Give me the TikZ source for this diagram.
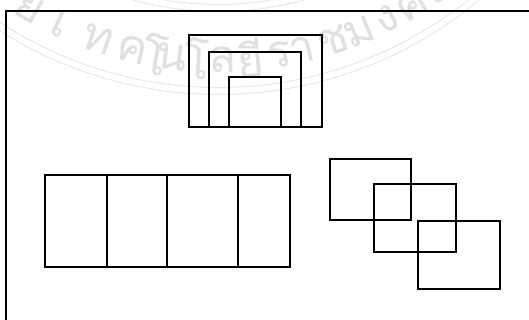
\documentclass[tikz,border=0pt]{standalone}
\usepackage{fontspec}
\usetikzlibrary{calc}
\newfontfamily\thaifont[Script=Thai]{Loma}
\begin{document}
\begin{tikzpicture}[x=1pt,y=1pt,
  shapeline/.style={line width=2.4pt, line join=miter},
  frameline/.style={line width=1.5pt},
  wm/.style={text=black!12, font=\thaifont\fontsize{46}{46}\selectfont, inner sep=0pt},
  ring/.style={draw=black!9, line width=1pt}]
\useasboundingbox (0,0) rectangle (529,320);
% faint watermark seal
\begin{scope}
\clip (0,0) rectangle (529,320);
\coordinate (wc) at (218.5,632.5);
\foreach \g/\x [count=\i] in {ย/30,เ/60,ท/98,ค/132,โ/155,น/172,โ/197,ล/222,ยี/250,ร/280,า/302,ช/333,ม/360,ง/387,ค/412,ล/437} {
  \pgfmathsetmacro\ang{asin((\x-218.5)/372)}
  \node[wm, rotate=\ang] (w\i) at ($(wc)+({372*sin(\ang)},{-372*cos(\ang)})$) {\g};
}
\foreach \r in {317,324,400,407}
  \draw[ring] (wc) ++(-140:\r) arc[start angle=-140, end angle=-40, radius=\r];
\end{scope}
% frame
\draw[frameline] (6,0) -- (6,309) -- (529,309);
% nested rectangles
\draw[shapeline] (189,193) rectangle (322,285);
\draw[shapeline] (209,193) rectangle (301,268);
\draw[shapeline] (229,193) rectangle (281,243);
% row of four panels
\draw[shapeline] (45,53) rectangle (290,145);
\draw[shapeline] (107,53) -- (107,145);
\draw[shapeline] (167,53) -- (167,145);
\draw[shapeline] (238,53) -- (238,145);
% overlapping rectangles
\draw[shapeline] (330,100) rectangle (411,161);
\draw[shapeline] (374,68) rectangle (456,136);
\draw[shapeline] (418,31) rectangle (500,99);
\end{tikzpicture}
\end{document}
